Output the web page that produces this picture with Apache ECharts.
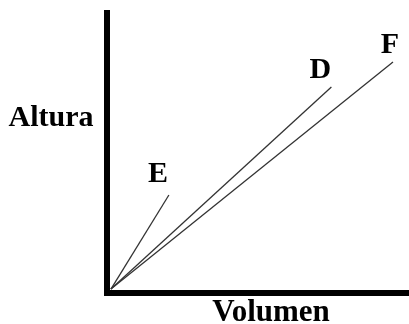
<!DOCTYPE html>
<html>
<head>
<meta charset="utf-8">
<script src="https://cdn.jsdelivr.net/npm/echarts@6/dist/echarts.min.js"></script>
<style>
  html, body { margin: 0; padding: 0; background: #fff; }
  #chart { width: 409px; height: 324px; }
</style>
</head>
<body>
<div id="chart"></div>
<script>
// rays from the origin, one per substance
const lineNames = ['E', 'D', 'F']
const startPoint = [1.3, 1.4]
const endX = [20.5, 74.3, 94.7]
const endY = [35.0, 73.6, 82.5]
const labelOffsets = [[-11, -21], [-11, -17], [-3, -17]]

const font = { fontFamily: 'Liberation Serif', fontWeight: 'bold', fontSize: 30, color: '#000' }

const chart = echarts.init(document.getElementById('chart'))

const series = lineNames.map((name, i) => ({
  name,
  type: 'line',
  data: [
    startPoint,
    {
      value: [endX[i], endY[i]],
      label: {
        show: true,
        position: 'inside',
        formatter: name,
        offset: labelOffsets[i],
        ...font
      }
    }
  ],
  symbol: 'circle',
  symbolSize: 0.1,
  showSymbol: true,
  lineStyle: { color: '#333', width: 1.3 },
  itemStyle: { color: '#333' },
  emphasis: { disabled: true },
  z: 3
}))

chart.setOption({
  animation: false,
  grid: { left: 107, right: 0, top: 13, bottom: 31 },
  xAxis: {
    type: 'value', min: 0, max: 100,
    axisLine: { show: true, lineStyle: { color: '#000', width: 6, cap: 'square' } },
    axisTick: { show: false }, axisLabel: { show: false }, splitLine: { show: false }
  },
  yAxis: {
    type: 'value', min: 0, max: 100,
    axisLine: { show: true, lineStyle: { color: '#000', width: 6, cap: 'square' } },
    axisTick: { show: false }, axisLabel: { show: false }, splitLine: { show: false }
  },
  graphic: [
    { type: 'text', x: 51, y: 118, style: { text: 'Altura', textAlign: 'center', textVerticalAlign: 'middle', font: 'bold 30px "Liberation Serif"', fill: '#000' } },
    { type: 'text', x: 271, y: 313, style: { text: 'Volumen', textAlign: 'center', textVerticalAlign: 'middle', font: 'bold 31px "Liberation Serif"', fill: '#000' } }
  ],
  series
})
</script>
</body>
</html>
